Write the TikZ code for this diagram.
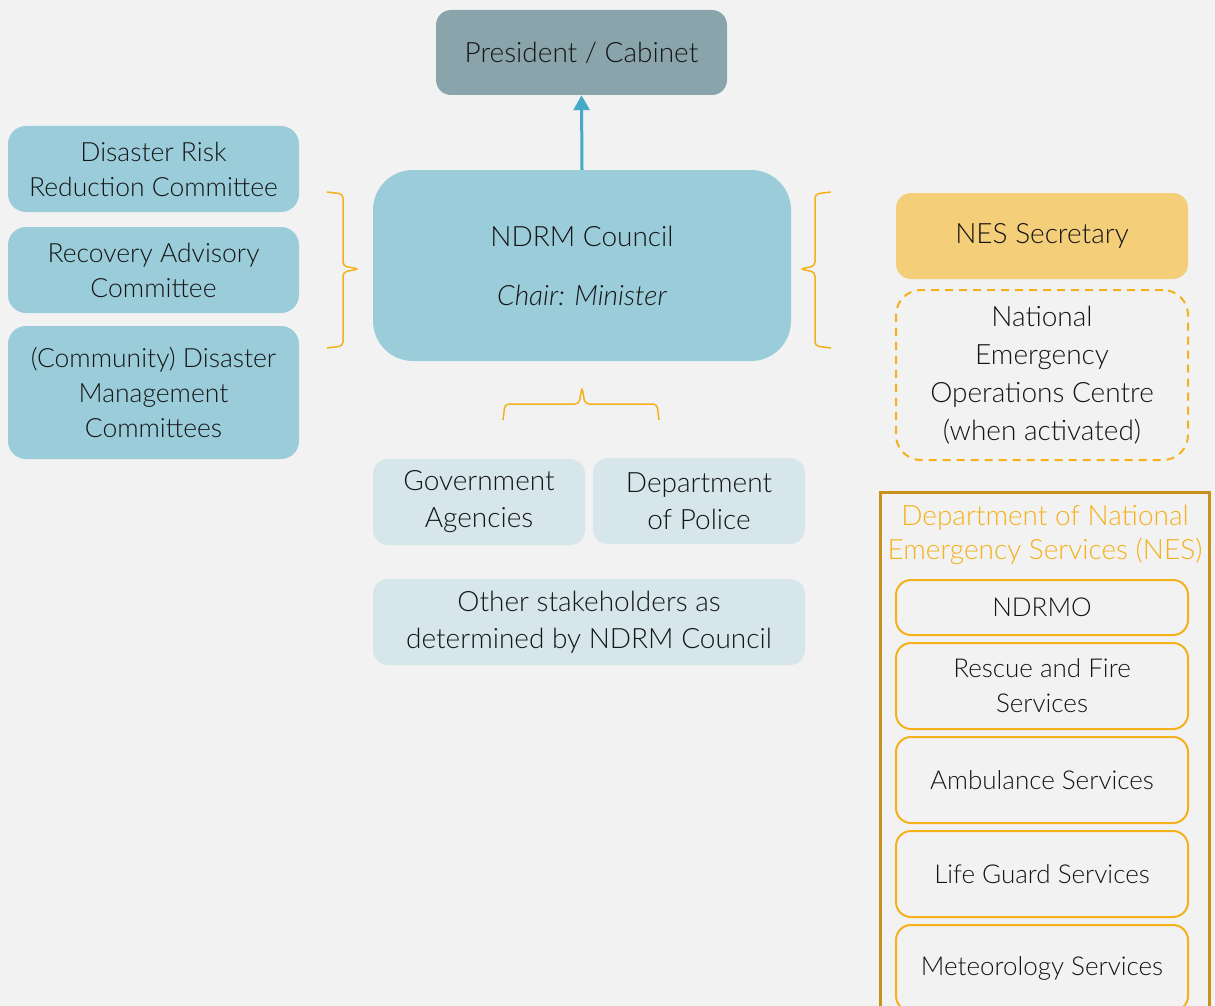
\documentclass[tikz,border=0pt]{standalone}
\usepackage{fontspec}
\setmainfont{Lato Light}[ItalicFont={Lato Light Italic}]
\usetikzlibrary{arrows.meta}
\definecolor{bggray}{HTML}{F2F2F2}
\definecolor{presgray}{HTML}{8AA4AB}
\definecolor{councilblue}{HTML}{9BCCDA}
\definecolor{paleblue}{HTML}{D6E6EA}
\definecolor{secyellow}{HTML}{F5CE7A}
\definecolor{nesorange}{HTML}{F5B11C}
\definecolor{nesgold}{HTML}{C8921A}
\definecolor{arrowblue}{HTML}{45A9C8}
\definecolor{inktext}{HTML}{151515}
\tikzset{
  every node/.style={align=center, text=inktext, inner sep=0pt,
    font=\fontsize{28}{35}\selectfont},
  bluebox/.style={fill=councilblue, rounded corners=18pt, minimum width=291pt, minimum height=86pt,
    font=\fontsize{26.5}{35}\selectfont},
  palebox/.style={fill=paleblue, rounded corners=15pt, minimum width=212pt, minimum height=86pt,
    font=\fontsize{28}{37}\selectfont},
  nesbox/.style={draw=nesorange, line width=2pt, rounded corners=15pt, minimum width=292pt, minimum height=86pt,
    font=\fontsize{26}{35}\selectfont},
  bracket/.style={draw=nesorange, line width=1.5pt, rounded corners=4pt}
}
\begin{document}
\begin{tikzpicture}[x=1pt, y=-1pt]
    \clip (0,0) rectangle (1215,1006);
    \fill[bggray] (0,0) rectangle (1215,1006);
    % top of the chain
    \node[fill=presgray, rounded corners=15pt, minimum width=291pt, minimum height=85pt] (president) at (581.5,52.5) {President / Cabinet};
    \node[fill=councilblue, rounded corners=40pt, minimum width=418pt, minimum height=191pt,
          font=\fontsize{28}{38}\selectfont] (council) at (582,265.5) {NDRM Council\\[21pt]\textit{Chair: Minister}};
    \draw[arrowblue, line width=3pt, -{Triangle[length=15pt, width=16pt]}] (council.north) -- (president.south);
    % committees
    \node[bluebox] (drr) at (153.5,169) {Disaster Risk\\Reduction Committee};
    \node[bluebox] (recovery) at (153.5,270) {Recovery Advisory\\Committee};
    \node[bluebox, minimum height=133pt] (community) at (153.5,392.5) {(Community) Disaster\\Management\\Committees};
    % members
    \node[palebox] (gov) at (479,502) {Government\\Agencies};
    \node[palebox] (police) at (699,501) {Department\\of Police};
    \node[palebox, minimum width=432pt] (other) at (589,622) {Other stakeholders as\\determined by NDRM Council};
    % secretary side
    \node[fill=secyellow, rounded corners=15pt, minimum width=292pt, minimum height=86pt] (secretary) at (1042,236) {NES Secretary};
    \node[draw=nesorange, line width=2pt, dash pattern=on 8pt off 6pt, rounded corners=25pt,
          minimum width=292pt, minimum height=170pt, font=\fontsize{28}{38}\selectfont] (neoc) at (1042,375) {National\\Emergency\\Operations Centre\\(when activated)};
    % braces
    \draw[bracket] (327,192) -- (343,194) -- (343,266) -- (359,269) -- (343,272) -- (343,346) -- (327,348);
    \draw[bracket] (831,192) -- (815,194) -- (815,266) -- (800,269) -- (815,272) -- (815,346) -- (831,348);
    \draw[bracket] (503,420) -- (505,404) -- (579,404) -- (582,387) -- (585,404) -- (657,404) -- (659,420);
    % department of NES
    \node[draw=nesgold, line width=3pt, anchor=north west, minimum width=329pt, minimum height=560pt] (nes) at (879,491) {};
    \node[text=nesorange, anchor=north, font=\fontsize{28}{34}\selectfont] (nestitle) at ([yshift=-14pt]nes.north) {Department of National\\Emergency Services (NES)};
    \node[nesbox, minimum height=55pt] (ndrmo) at (1042,607.5) {NDRMO};
    \node[nesbox] (rescue) at (1042,686) {Rescue and Fire\\Services};
    \node[nesbox] (ambulance) at (1042,780) {Ambulance Services};
    \node[nesbox] (lifeguard) at (1042,874) {Life Guard Services};
    \node[nesbox] (meteo) at (1042,968) {Meteorology Services};
\end{tikzpicture}
\end{document}
